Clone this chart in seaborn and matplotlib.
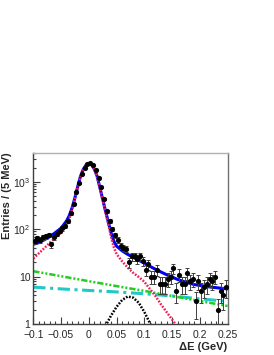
import numpy as np
import pandas as pd
import matplotlib
matplotlib.use('Agg')
import matplotlib.pyplot as plt
import matplotlib.ticker as mticker
import seaborn as sns

# data points, 5 MeV bins from -0.1 to 0.25 GeV
bin_lo, bin_w = -0.1, 0.005
counts = [56, 64, 60, 68, 72, 76, 48, 68, 80, 92,
          104, 118, 150, 215, 340, 600, 950, 1480, 1990, 2380,
          2450, 2230, 1800, 1200, 760, 440, 240, 150, 100, 75,
          60, 45, 41, 39, 20, 27, 27, 23, 27, 21,
          14, 18, 10, 10, 14, 7, 7, 7, 9, 10,
          15, 5, 11, 7, 7, 12, 8, 9, 3, 8,
          5, 6, 7, 9, 8, 10, 2, 5, 4, 6]

# fit components
total_x = [-0.1, -0.09, -0.08, -0.07, -0.06, -0.05, -0.045, -0.04, -0.035, -0.03,
           -0.025, -0.02, -0.015, -0.01, -0.005, 0.0, 0.005, 0.01, 0.015, 0.02,
           0.025, 0.03, 0.035, 0.04, 0.045, 0.05, 0.06, 0.07, 0.08, 0.09,
           0.1, 0.11, 0.12, 0.13, 0.14, 0.15, 0.16, 0.175, 0.19, 0.22, 0.25]
total_y = [48, 52, 60, 70, 85, 105, 125, 150, 195, 285,
           460, 790, 1300, 1830, 2240, 2430, 2290, 1860, 1310, 750,
           430, 245, 145, 85, 56, 44, 35, 29.5, 25.5, 22,
           19.5, 16.5, 14.3, 12.5, 11, 9.8, 8.7, 7.6, 6.8, 6.0, 5.5]

sig_x = [-0.1, -0.09, -0.08, -0.07, -0.06, -0.05, -0.045, -0.04, -0.035, -0.03,
         -0.025, -0.02, -0.015, -0.01, -0.005, 0.0, 0.005, 0.01, 0.015, 0.02,
         0.025, 0.03, 0.035, 0.04, 0.045, 0.05, 0.06, 0.07, 0.08, 0.09,
         0.1, 0.11, 0.12, 0.13, 0.14, 0.15, 0.156]
sig_y = [24, 31, 40, 52, 66, 85, 100, 122, 168, 262,
         440, 770, 1280, 1810, 2220, 2420, 2280, 1850, 1300, 740,
         420, 230, 130, 70, 42, 30, 21, 15.5, 12, 9.8,
         7.8, 5.5, 3.9, 2.6, 1.8, 1.25, 1.0]

bkg1_x = [-0.1, -0.05, 0.0, 0.05, 0.1, 0.15, 0.2, 0.25]
bkg1_y = [13, 10.2, 8.0, 6.3, 5.0, 3.9, 3.05, 2.4]

bkg2_x = [-0.1, -0.05, 0.0, 0.05, 0.1, 0.15, 0.2, 0.25]
bkg2_y = [6.0, 5.5, 5.1, 4.75, 4.35, 3.9, 3.4, 3.0]

peak_x = [0.03, 0.04, 0.05, 0.06, 0.07, 0.08, 0.09, 0.1, 0.11, 0.115]
peak_y = [0.9, 1.5, 2.3, 3.2, 3.8, 3.6, 2.8, 1.8, 1.05, 0.75]

x_ticks = [-0.1, -0.05, 0, 0.05, 0.1, 0.15, 0.2, 0.25]
x_ticklabels = ['\u22120.1', '\u22120.05', '0', '0.05', '0.1', '0.15', '0.2', '0.25']
y_ticks = [1, 10, 100, 1000]
y_ticklabels = ['1', '10', r'$\mathregular{10^{2}}$', r'$\mathregular{10^{3}}$']

sns.set_style('ticks')
plt.rcParams['font.family'] = ['Liberation Sans', 'DejaVu Sans']
plt.rcParams['mathtext.fontset'] = 'custom'
plt.rcParams['mathtext.rm'] = 'Liberation Sans'

fig = plt.figure(figsize=(2.74, 3.55), dpi=100)
ax = fig.add_axes([0.1215, 0.0873, 0.709, 0.4825])

bins = pd.DataFrame({'x': bin_lo + bin_w * (np.arange(len(counts)) + 0.5),
                     'n': counts})
bins['err'] = np.sqrt(bins.n)

def curve(xs, ys, color, lw, ls):
    sns.lineplot(x=xs, y=ys, ax=ax, color=color, lw=lw, linestyle=ls,
                 sort=False, errorbar=None)

curve(bkg2_x, bkg2_y, '#20c8c8', 2.2, (0, (4, 1.5, 1, 1.5)))
curve(bkg1_x, bkg1_y, '#22cc22', 1.8, (0, (2.5, 0.8, 0.8, 0.8, 0.8, 0.8)))
curve(peak_x, peak_y, 'black', 1.8, (0, (0.7, 0.6)))
curve(total_x, total_y, '#0000ee', 2.2, '-')
curve(sig_x, sig_y, '#f0205a', 1.8, (0, (0.7, 0.6)))

ax.errorbar(bins.x, bins.n, yerr=bins.err, fmt='none', ecolor='#404040',
            elinewidth=0.7, capsize=1.2, capthick=0.7, zorder=4)
sns.scatterplot(x='x', y='n', data=bins, ax=ax, color='black', s=14,
                edgecolor='black', linewidth=0, zorder=5)

ax.set_yscale('log')
ax.set_xlim(-0.1, 0.25)
ax.set_ylim(1, 4100)
ax.set_xticks(x_ticks)
ax.set_xticklabels(x_ticklabels)
ax.set_yticks(y_ticks)
ax.set_yticklabels(y_ticklabels)
ax.xaxis.set_minor_locator(mticker.MultipleLocator(0.01))
ax.yaxis.set_minor_locator(mticker.LogLocator(base=10, subs=np.arange(2, 10)))
ax.yaxis.set_minor_formatter(mticker.NullFormatter())
ax.tick_params(which='both', direction='in', top=False, right=False,
               labelsize=7.5, color='#404040', width=0.8)
ax.tick_params(axis='y', pad=2)
ax.tick_params(axis='x', pad=4)
ax.tick_params(which='major', length=5)
ax.tick_params(which='minor', length=2.5)

for side in ['left', 'bottom']:
    ax.spines[side].set_color('#404040')
    ax.spines[side].set_linewidth(1.0)
ax.spines['top'].set_color('#b0b0b0')
ax.spines['right'].set_color('#707070')
for side in ['top', 'right']:
    ax.spines[side].set_visible(True)
    ax.spines[side].set_linewidth(1.0)

ax.set_xlabel('\u0394E (GeV)', fontsize=8, fontweight='bold', loc='right', labelpad=2)
ax.set_ylabel('Entries / (5 MeV)', fontsize=8, fontweight='bold', loc='top')
ax.yaxis.set_label_coords(-0.108, 1.0)

plt.savefig('out.png', dpi=100)
